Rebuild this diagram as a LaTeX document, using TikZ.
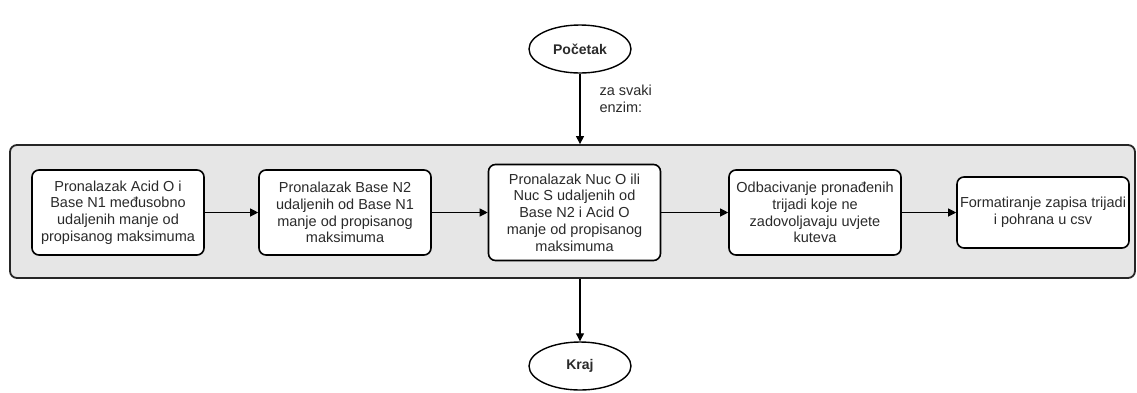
\documentclass[tikz,border=0pt]{standalone}
\usepackage{fontspec}
\setmainfont{Liberation Sans}
\usetikzlibrary{shapes.geometric,arrows.meta}
\definecolor{txt}{HTML}{2A2A2A}
\definecolor{grp}{HTML}{E6E6E6}
\begin{document}
\begin{tikzpicture}[x=1pt,y=-1pt,
  every node/.style={font=\fontsize{14.5}{16.7}\selectfont, text=txt},
  stepbox/.style={draw=black, line width=1.6pt, fill=white, rounded corners=7pt,
    align=center, inner sep=0pt, minimum width=172pt},
  term/.style={draw=black, line width=1.4pt, ellipse, fill=white, inner sep=0pt,
    minimum width=102pt, minimum height=48pt, font=\fontsize{14}{16}\selectfont\bfseries},
  conn/.style={draw=black, line width=1.1pt, -{Triangle[length=8pt,width=8pt]}}
]
\useasboundingbox (0,0) rectangle (1137,392);
\node[draw=black!85, line width=1.8pt, fill=grp, rounded corners=7pt,
  minimum width=1125pt, minimum height=133pt, inner sep=0pt] (grp) at (572.5,211.5) {};
\node[term] (start) at (580,49) {Početak};
\node[term] (end) at (580,366) {Kraj};
\node[stepbox, minimum height=85pt] (b1) at (118,212.5) {Pronalazak Acid O i\\Base N1 međusobno\\udaljenih manje od\\propisanog maksimuma};
\node[stepbox, minimum height=85pt] (b2) at (345,212.5) {Pronalazak Base N2\\udaljenih od Base N1\\manje od propisanog\\maksimuma};
\node[stepbox, minimum height=96pt] (b3) at (574.5,212.5) {Pronalazak Nuc O ili\\Nuc S udaljenih od\\Base N2 i Acid O\\manje od propisanog\\maksimuma};
\node[stepbox, minimum height=85pt] (b4) at (815,212.5) {Odbacivanje pronađenih\\trijadi koje ne\\zadovoljavaju uvjete\\kuteva};
\node[stepbox, minimum height=71pt] (b5) at (1043,212.5) {Formatiranje zapisa trijadi\\i pohrana u csv};
\node[anchor=west, align=left] (lbl) at (596,99) {za svaki\\enzim:};
\draw[conn] (start.south) -- (start.south |- grp.north);
\draw[conn] (end.north |- grp.south) -- (end.north);
\draw[conn] (b1) -- (b2);
\draw[conn] (b2) -- (b3);
\draw[conn] (b3) -- (b4);
\draw[conn] (b4) -- (b5);
\end{tikzpicture}
\end{document}
